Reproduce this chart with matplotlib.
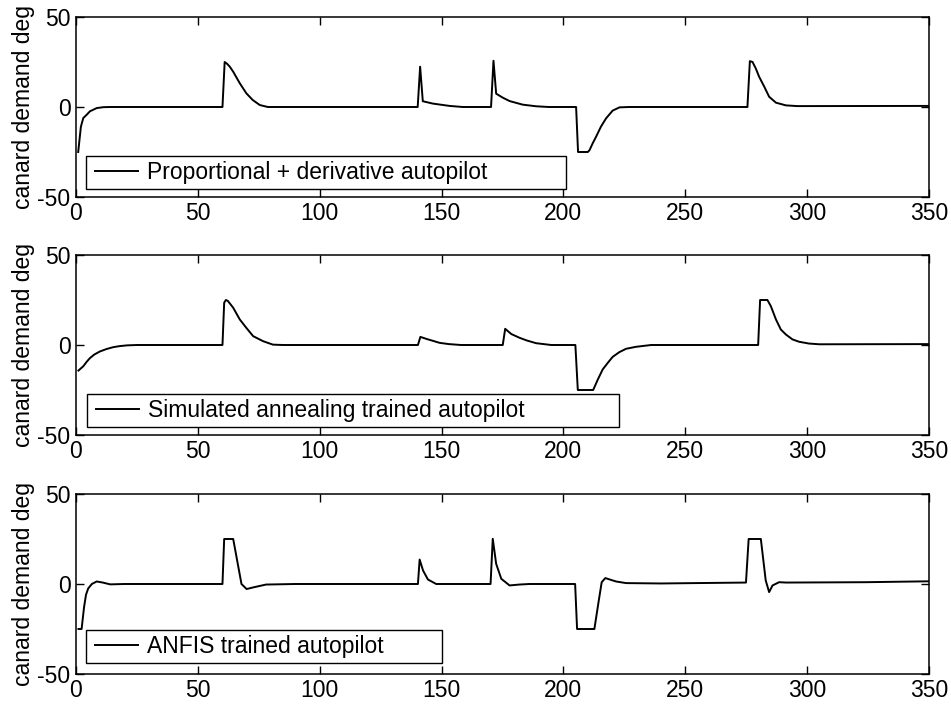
import matplotlib
matplotlib.use("Agg")
import matplotlib.pyplot as plt
from matplotlib.ticker import FixedLocator, FixedFormatter
from matplotlib.legend_handler import HandlerLine2D

# ---------------- data ----------------
x_ticks = [0, 50, 100, 150, 200, 250, 300, 350]
x_tick_labels = ["0", "50", "100", "150", "200", "250", "300", "350"]
y_ticks = [-50, 0, 50]
y_tick_labels = ["-50", "0", "50"]
y_label = "canard demand deg"

pd_label = "Proportional + derivative autopilot"
pd_t = [0.9, 2.0, 2.5, 3.0, 4.4, 5.7, 7.1, 8.5, 11.2, 14.0,
        60.1, 61.0, 62.0, 63.1, 64.5, 67.2, 69.9, 72.5, 75.4, 78.7,
        140.2, 141.2, 142.3, 146.4, 153.3, 158.7,
        170.3, 171.3, 172.4, 175.1, 177.9, 183.3, 188.8, 194.0,
        205.2, 206.0, 210.0, 210.7, 212.0, 213.4, 215.4, 217.5, 220.2, 223.0, 227.0,
        275.5, 276.5, 277.6, 278.9, 280.3, 282.4, 284.4, 287.2, 291.3, 296.0, 350.0]
pd_v = [-25.0, -11.0, -8.5, -6.1, -4.3, -2.4, -1.5, -0.6, -0.1, 0.0,
        0.0, 25.0, 24.0, 22.4, 19.6, 13.2, 7.6, 3.9, 1.1, 0.0,
        0.0, 22.4, 3.2, 1.9, 0.6, 0.0,
        0.0, 25.7, 7.4, 5.2, 3.3, 1.3, 0.4, 0.0,
        0.0, -25.0, -25.0, -24.0, -20.2, -16.5, -10.9, -6.3, -2.0, -0.2, 0.0,
        0.0, 25.5, 25.0, 21.5, 16.8, 11.3, 5.7, 2.4, 0.9, 0.5, 0.6]

sa_label = "Simulated annealing trained autopilot"
sa_t = [1.0, 3.0, 4.4, 5.7, 7.5, 9.8, 12.6, 15.3, 18.0, 21.0, 25.0,
        60.1, 60.8, 61.5, 62.3, 64.5, 67.2, 69.9, 72.7, 76.8, 80.8, 85.0,
        140.3, 141.3, 144.0, 149.2, 153.0, 158.0,
        175.1, 176.1, 178.6, 182.0, 185.0, 188.8, 195.0,
        204.9, 205.9, 212.2, 214.1, 216.1, 218.2, 220.2, 222.9, 225.7, 229.8, 236.0,
        279.9, 280.7, 283.7, 285.1, 287.2, 289.2, 291.3, 294.0, 296.7, 300.8, 305.0, 350.0]
sa_v = [-14.2, -11.8, -9.3, -7.3, -5.3, -3.6, -2.2, -1.2, -0.6, -0.2, 0.0,
        0.0, 23.5, 25.0, 24.5, 20.7, 14.2, 9.5, 4.9, 2.1, 0.2, 0.0,
        0.0, 4.5, 3.3, 1.2, 0.5, 0.0,
        0.0, 9.0, 6.1, 4.0, 2.5, 1.0, 0.0,
        0.0, -25.0, -25.0, -19.2, -13.6, -9.9, -6.6, -4.0, -2.1, -1.0, 0.0,
        0.0, 25.0, 25.0, 21.6, 14.2, 8.6, 5.8, 3.1, 1.8, 0.8, 0.4, 0.5]

an_label = "ANFIS trained autopilot"
an_t = [1.0, 2.3, 3.3, 4.1, 5.0, 6.5, 8.5, 11.0, 14.0, 20.0,
        60.1, 60.8, 64.5, 66.2, 67.9, 70.0, 73.0, 78.0, 90.0,
        140.3, 141.0, 142.4, 144.4, 147.8,
        170.1, 171.0, 172.4, 174.5, 177.9, 182.0, 186.0,
        204.8, 205.6, 212.7, 214.5, 215.7, 217.2, 219.0, 221.6, 225.7, 240.0, 274.9,
        276.0, 281.0, 283.0, 284.4, 285.8, 288.5, 291.3, 324.0, 350.0]
an_v = [-25.0, -25.0, -12.9, -6.0, -2.5, 0.0, 1.4, 0.8, -0.2, 0.0,
        0.0, 25.0, 25.0, 12.5, 0.0, -2.8, -1.8, -0.3, 0.0,
        0.0, 13.6, 7.5, 2.5, 0.0,
        0.0, 25.1, 11.2, 2.9, -0.8, -0.3, 0.0,
        0.0, -25.0, -25.0, -9.2, 1.0, 3.3, 2.5, 1.4, 0.5, 0.3, 0.8,
        25.0, 25.0, 2.0, -4.5, -0.8, 1.0, 0.8, 1.0, 1.5]

series = [(pd_t, pd_v, pd_label), (sa_t, sa_v, sa_label), (an_t, an_v, an_label)]

# ---------------- style / layout ----------------
plt.rcParams["font.family"] = ["Liberation Sans", "DejaVu Sans"]
plt.rcParams["axes.unicode_minus"] = False
FS = 16.5

fig = plt.figure(figsize=(9.51, 7.04), dpi=100)
left, width, height = 76 / 951, 853 / 951, 180 / 704
bottoms = [1 - 197 / 704, 1 - 435 / 704, 1 - 674 / 704]
legend_boxes = [(0.0117, 0.044, 0.563, 0.2),
                (0.0129, 0.044, 0.624, 0.2),
                (0.0117, 0.061, 0.4175, 0.2)]

for (t, v, lab), b, lb in zip(series, bottoms, legend_boxes):
    ax = fig.add_axes([left, b, width, height])
    line, = ax.plot(t, v, color="black", lw=1.4, label=lab)
    ax.set_xlim(0, 350)
    ax.set_ylim(-50, 50)
    ax.xaxis.set_major_locator(FixedLocator(x_ticks))
    ax.xaxis.set_major_formatter(FixedFormatter(x_tick_labels))
    ax.yaxis.set_major_locator(FixedLocator(y_ticks))
    ax.yaxis.set_major_formatter(FixedFormatter(y_tick_labels))
    ax.tick_params(direction="in", top=True, right=True, length=6, width=1.0,
                   labelsize=FS, colors="black")
    ax.tick_params(axis="x", pad=3.5)
    ax.tick_params(axis="y", pad=4)
    for s in ax.spines.values():
        s.set_linewidth(1.1)
    ax.set_ylabel(y_label, fontsize=FS)
    ax.yaxis.set_label_coords(-41 / 853, 0.5)
    leg = ax.legend(loc="lower left", bbox_to_anchor=lb, mode="expand",
                    borderaxespad=0, fancybox=False, edgecolor="black",
                    framealpha=1, borderpad=0.22, handlelength=2.05,
                    handletextpad=0.39, fontsize=FS,
                    handler_map={line: HandlerLine2D(xpad=0.175)})
    leg.get_frame().set_linewidth(1.0)

fig.savefig("out.png", dpi=100)
